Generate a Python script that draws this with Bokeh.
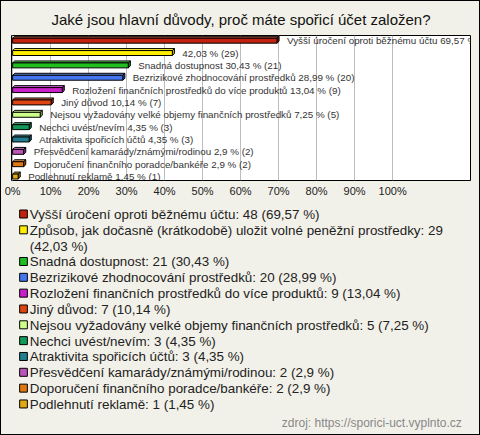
from bokeh.plotting import figure
from bokeh.models import Range1d, FixedTicker, ColumnDataSource, LabelSet
from bokeh.layouts import column
from bokeh.core.properties import value
from bokeh.embed import file_html
from bokeh.resources import INLINE

# ---------------- data ----------------
title = "Jaké jsou hlavní důvody, proč máte spořicí účet založen?"
categories = [
    "Vyšší úročení oproti běžnému účtu",
    "Způsob, jak dočasně (krátkodobě) uložit volné peněžní prostředky",
    "Snadná dostupnost",
    "Bezrizikové zhodnocování prostředků",
    "Rozložení finančních prostředků do více produktů",
    "Jiný důvod",
    "Nejsou vyžadovány velké objemy finančních prostředků",
    "Nechci uvést/nevím",
    "Atraktivita spořicích účtů",
    "Přesvědčení kamarády/známými/rodinou",
    "Doporučení finančního poradce/bankéře",
    "Podlehnutí reklamě",
]
counts = [48, 29, 21, 20, 9, 7, 5, 3, 3, 2, 2, 1]
percents = [69.57, 42.03, 30.43, 28.99, 13.04, 10.14, 7.25, 4.35, 4.35, 2.9, 2.9, 1.45]
colors = ["#c2210f", "#ffee00", "#1fbf1f", "#4477ee", "#cc1fcc", "#e04410",
          "#ccff88", "#11995a", "#1f7f8f", "#bb55bb", "#e07711", "#e0aa11"]
tick_values = [0, 10, 20, 30, 40, 50, 60, 70, 80, 90, 100]
tick_labels = ["0%", "10%", "20%", "30%", "40%", "50%", "60%", "70%", "80%", "90%", "100%"]
# legend text lines (second item wraps)
legend_lines = [
    ["Vyšší úročení oproti běžnému účtu: 48 (69,57 %)"],
    ["Způsob, jak dočasně (krátkodobě) uložit volné peněžní prostředky: 29", "(42,03 %)"],
    ["Snadná dostupnost: 21 (30,43 %)"],
    ["Bezrizikové zhodnocování prostředků: 20 (28,99 %)"],
    ["Rozložení finančních prostředků do více produktů: 9 (13,04 %)"],
    ["Jiný důvod: 7 (10,14 %)"],
    ["Nejsou vyžadovány velké objemy finančních prostředků: 5 (7,25 %)"],
    ["Nechci uvést/nevím: 3 (4,35 %)"],
    ["Atraktivita spořicích účtů: 3 (4,35 %)"],
    ["Přesvědčení kamarády/známými/rodinou: 2 (2,9 %)"],
    ["Doporučení finančního poradce/bankéře: 2 (2,9 %)"],
    ["Podlehnutí reklamě: 1 (1,45 %)"],
]
bar_labels = [
    "Vyšší úročení oproti běžnému účtu 69,57 % (48)",
    "42,03 % (29)",
    "Snadná dostupnost 30,43 % (21)",
    "Bezrizikové zhodnocování prostředků 28,99 % (20)",
    "Rozložení finančních prostředků do více produktů 13,04 % (9)",
    "Jiný důvod 10,14 % (7)",
    "Nejsou vyžadovány velké objemy finančních prostředků 7,25 % (5)",
    "Nechci uvést/nevím 4,35 % (3)",
    "Atraktivita spořicích účtů 4,35 % (3)",
    "Přesvědčení kamarády/známými/rodinou 2,9 % (2)",
    "Doporučení finančního poradce/bankéře 2,9 % (2)",
    "Podlehnutí reklamě 1,45 % (1)",
]
source_text = "zdroj: https://sporici-uct.vyplnto.cz"

BG = "#f2f1e9"
FONT = "Liberation Sans"
W = 478
H1 = 198
H2 = 433 - H1

# ---------------- bar chart ----------------
n = len(categories)
ys = [n - i for i in range(n)]
p = figure(width=W, height=H1, output_backend="svg", toolbar_location=None,
           x_range=Range1d(-0.3, 120.5), y_range=Range1d(0.68, n + 0.42),
           min_border_left=10, min_border_right=9, min_border_top=0, min_border_bottom=0)
p.background_fill_color = "white"
p.border_fill_color = BG
p.outline_line_color = "black"
p.outline_line_width = 1
p.title.text = title
p.title.align = "center"
p.title.text_font = FONT
p.title.text_font_size = "15px"
p.title.text_font_style = "normal"
p.title.text_color = "#111111"
p.title.standoff = 15

p.yaxis.visible = False
p.ygrid.visible = False
p.xaxis.ticker = FixedTicker(ticks=tick_values)
p.xaxis.major_label_overrides = {v: l for v, l in zip(tick_values, tick_labels)}
p.xaxis.axis_line_color = None
p.xaxis.major_tick_line_color = None
p.xaxis.minor_tick_line_color = None
p.xaxis.major_tick_out = 0
p.xaxis.major_tick_in = 0
p.xaxis.minor_tick_out = 0
p.xaxis.major_label_text_font = FONT
p.xaxis.major_label_text_font_size = "11px"
p.xaxis.major_label_text_color = "#222222"
p.xaxis.major_label_standoff = 4
p.xgrid.ticker = FixedTicker(ticks=tick_values)
p.xgrid.grid_line_color = "#bdbdbd"
p.xgrid.grid_line_width = 1

dx = 0.55   # depth offset (percent units)
dy = 0.16   # depth offset (row units)
hh = 0.2    # half bar height
top_xs, top_ys, side_xs, side_ys = [], [], [], []
for v, y in zip(percents, ys):
    top_xs.append([0, v, v + dx, dx])
    top_ys.append([y + hh, y + hh, y + hh + dy, y + hh + dy])
    side_xs.append([v, v + dx, v + dx, v])
    side_ys.append([y - hh, y - hh + dy, y + hh + dy, y + hh])


def lighten(c, f):
    c = c.lstrip("#")
    r, g, b = int(c[0:2], 16), int(c[2:4], 16), int(c[4:6], 16)
    r = int(r + (255 - r) * f); g = int(g + (255 - g) * f); b = int(b + (255 - b) * f)
    return "#%02x%02x%02x" % (r, g, b)


def darken(c, f):
    c = c.lstrip("#")
    r, g, b = int(c[0:2], 16), int(c[2:4], 16), int(c[4:6], 16)
    return "#%02x%02x%02x" % (int(r * f), int(g * f), int(b * f))


p.patches(top_xs, top_ys, fill_color=[lighten(c, 0.25) for c in colors],
          line_color="black", line_width=1)
p.patches(side_xs, side_ys, fill_color=[darken(c, 0.75) for c in colors],
          line_color="black", line_width=1)
src = ColumnDataSource(dict(y=ys, right=percents, color=colors, label=bar_labels))
p.hbar(y="y", left=0, right="right", height=2 * hh, fill_color="color",
       line_color="black", line_width=1, source=src)
labels = LabelSet(x="right", y="y", text="label", source=src, x_offset=10,
                  text_font=value(FONT), text_font_size="9.8px", text_color="#333333",
                  text_baseline="middle", text_align="left")
p.add_layout(labels)

# ---------------- legend ----------------
q = figure(width=W, height=H2, output_backend="svg", toolbar_location=None,
           x_range=Range1d(0, W), y_range=Range1d(H2, 0),
           min_border=0)
q.axis.visible = False
q.grid.visible = False
q.outline_line_color = None
q.background_fill_color = BG
q.border_fill_color = BG

first = 14.5
step = 15.83
sq_x, sq_y, t_x, t_y, t_txt = [], [], [], [], []
k = 0
for i, lines in enumerate(legend_lines):
    sq_y.append(first + k * step)
    sq_x.append(12.5)
    for ln in lines:
        t_x.append(19)
        t_y.append(first + k * step + 0.5)
        t_txt.append(ln)
        k += 1
q.rect(x=sq_x, y=sq_y, width=8, height=8, fill_color=colors, line_color="black", line_width=1)
q.text(x=t_x, y=t_y, text=t_txt, text_font=value(FONT), text_font_size="13.4px",
       text_color="#222222", text_baseline="middle", text_align="left")
q.text(x=[469], y=[H2 - 12], text=[source_text], text_font=value(FONT),
       text_font_size="12px", text_color="#888888", text_baseline="middle",
       text_align="right")

layout = column(p, q, spacing=0,
                styles={"border": "1px solid black", "background-color": BG})

open("out.html", "w").write(file_html(layout, INLINE))
